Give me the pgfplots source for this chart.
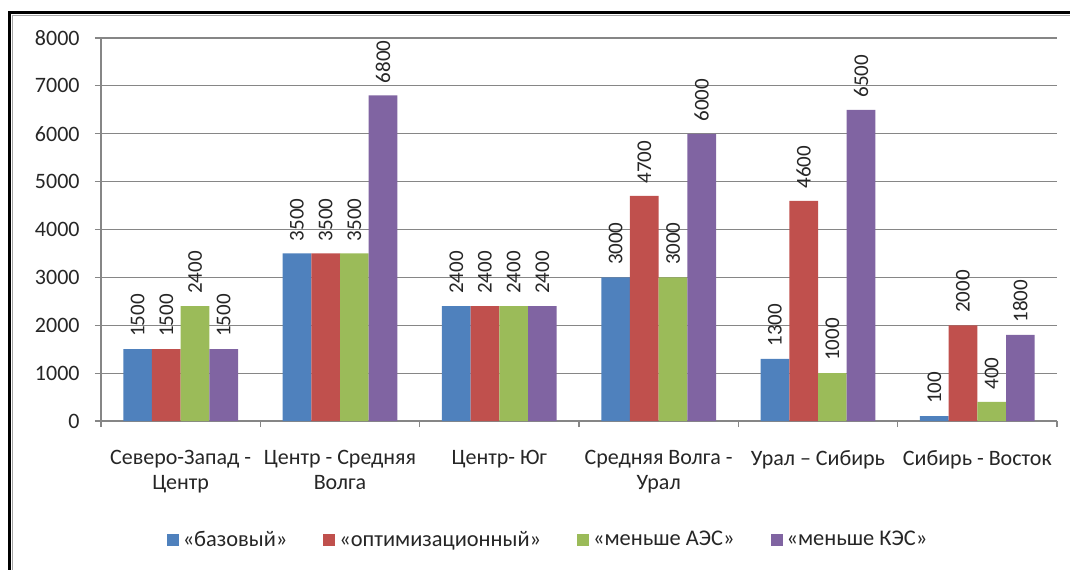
\documentclass[border=0pt]{standalone}
\usepackage{fontspec}
\setmainfont{Carlito}
\usepackage{pgfplots}
\pgfplotsset{compat=1.18}
\definecolor{cBlue}{HTML}{4F81BD}
\definecolor{cRed}{HTML}{C0504D}
\definecolor{cGreen}{HTML}{9BBB59}
\definecolor{cPurple}{HTML}{8064A2}
\definecolor{axgray}{HTML}{868686}
\begin{document}
\begin{tikzpicture}
\useasboundingbox (0,0) rectangle (535pt,284.5pt);
\draw[black, line width=1.2pt] (4.75pt,-5pt) -- (4.75pt,278.25pt) -- (545pt,278.25pt);
\draw[gray!70, line width=0.6pt] (6.2pt,-5pt) -- (6.2pt,276.9pt) -- (545pt,276.9pt);
\begin{axis}[
  at={(50.5pt,74pt)}, anchor=south west,
  scale only axis, width=478pt, height=191.5pt,
  xmin=-0.5, xmax=5.5, ymin=0, ymax=8000,
  ybar, bar width=0.18,
  axis x line*=bottom, axis y line*=left,
  axis line style={-, draw=axgray, line width=0.6pt},
  ytick={0,1000,...,8000},
  ymajorgrids, grid style={draw=axgray, line width=0.6pt},
  xtick={-0.5,0.5,1.5,2.5,3.5,4.5,5.5},
  xticklabels={,,,,,,},
  extra x ticks={0,1,2,3,4,5},
  extra x tick labels={{Северо-Запад -\\Центр},{Центр - Средняя\\Волга},{Центр- Юг},{Средняя Волга -\\Урал},{Урал – Сибирь},{Сибирь - Восток}},
  extra x tick style={major tick length=0pt, xticklabel style={align=center, anchor=north, inner sep=0pt, yshift=-14.5pt, font=\fontsize{11}{12.2}\selectfont, text=black!85}},
  tick align=outside, major tick length=3pt,
  tick style={draw=axgray, line width=0.6pt},
  yticklabel style={anchor=east, inner sep=0pt, xshift=-7.5pt, font=\fontsize{11}{13}\selectfont, text=black!85},
  /pgf/number format/.cd, 1000 sep={}, assume math mode=true, /pgfplots/.cd,
  nodes near coords,
  every node near coord/.append style={rotate=90, anchor=west, inner xsep=6pt, inner ysep=0pt, font=\fontsize{10.5}{12}\selectfont, text=black!85},
  legend columns=4,
  legend style={draw=none, fill=none, at={(0.4686,-0.3107)}, anchor=center, font=\fontsize{11.2}{13}\selectfont, text=black!85,
    /tikz/every even column/.append style={column sep=16pt}},
  legend image code/.code={\fill[#1, draw=none] (0pt,-3pt) rectangle (6pt,3pt);},
  clip=false,
]
\addplot[fill=cBlue, draw=none, bar shift=-0.27] coordinates {(0,1500) (1,3500) (2,2400) (3,3000) (4,1300) (5,100)};
\addplot[fill=cRed, draw=none, bar shift=-0.09] coordinates {(0,1500) (1,3500) (2,2400) (3,4700) (4,4600) (5,2000)};
\addplot[fill=cGreen, draw=none, bar shift=0.09] coordinates {(0,2400) (1,3500) (2,2400) (3,3000) (4,1000) (5,400)};
\addplot[fill=cPurple, draw=none, bar shift=0.27] coordinates {(0,1500) (1,6800) (2,2400) (3,6000) (4,6500) (5,1800)};
\legend{«базовый»,«оптимизационный»,«меньше АЭС»,«меньше КЭС»}
\end{axis}
\end{tikzpicture}
\end{document}
